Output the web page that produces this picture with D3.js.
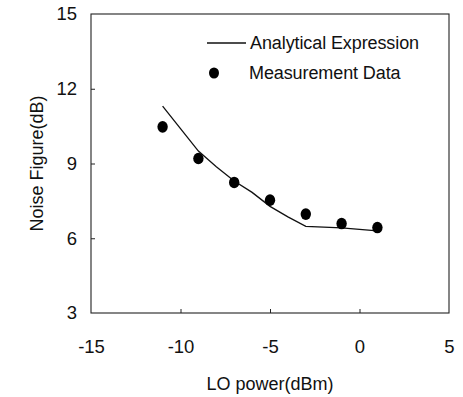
<!DOCTYPE html>
<html lang="en">
<head>
<meta charset="utf-8" />
<title>Noise Figure vs LO power</title>
<script src="https://cdn.jsdelivr.net/npm/d3@7/dist/d3.min.js"></script>
<style>
  body { margin: 0; background: #fff; }
  svg { display: block; font-family: "Liberation Sans", Arial, sans-serif; }
  .axis text { font-size: 18.5px; fill: #111; }
  .axis line { stroke: #222; stroke-width: 1px; }
  .axis path { display: none; }
  .frame { fill: none; stroke: #222; stroke-width: 1.1px; }
  .title { font-size: 18px; fill: #111; }
  .legend text { font-size: 18px; fill: #111; letter-spacing: -0.1px; }
</style>
</head>
<body>
<svg id="chart" width="463" height="397"></svg>
<script>
// analytical expression (solid line)
const lineX = [-11, -10, -9, -8, -7, -6, -5, -4, -3, -1, 1];
const lineY = [11.3, 10.4, 9.5, 8.87, 8.3, 7.84, 7.28, 6.86, 6.48, 6.42, 6.3];
// measured points
const measX = [-11, -9, -7, -5, -3, -1, 1];
const measY = [10.47, 9.2, 8.24, 7.53, 6.97, 6.59, 6.43];
// ticks
const xTicks = [-15, -10, -5, 0, 5];
const yTicks = [3, 6, 9, 12, 15];

const svg = d3.select('#chart');
const M = {left: 91, right: 449, top: 14, bottom: 313};

const x = d3.scaleLinear().domain([-15, 5]).range([M.left, M.right]);
const y = d3.scaleLinear().domain([3, 15]).range([M.bottom, M.top]);

/* ---- axes: inward ticks, labels outside ---- */
const xAxis = d3.axisBottom(x).tickValues(xTicks).tickSizeInner(-4).tickSizeOuter(0)
  .tickFormat(d => String(d));
const gx = svg.append('g').attr('class', 'axis').attr('transform', `translate(0,${M.bottom})`).call(xAxis);
gx.selectAll('.tick').filter(d => d === -15 || d === 5).select('line').remove();
gx.selectAll('text').attr('dy', null).attr('y', 40);

const yAxis = d3.axisLeft(y).tickValues(yTicks).tickSizeInner(-4).tickSizeOuter(0)
  .tickPadding(14);
const gy = svg.append('g').attr('class', 'axis').attr('transform', `translate(${M.left},0)`).call(yAxis);
gy.selectAll('.tick').filter(d => d === 3 || d === 15).select('line').remove();

/* ---- frame ---- */
svg.append('rect').attr('class', 'frame')
  .attr('x', M.left).attr('y', M.top)
  .attr('width', M.right - M.left).attr('height', M.bottom - M.top);

/* ---- analytical line ---- */
const line = d3.line().x(d => x(d[0])).y(d => y(d[1]));
svg.append('path')
  .datum(lineX.map((v, i) => [v, lineY[i]]))
  .attr('d', line)
  .attr('fill', 'none').attr('stroke', '#111').attr('stroke-width', 1.3);

/* ---- measurement dots ---- */
svg.append('g').selectAll('ellipse')
  .data(measX.map((v, i) => [v, measY[i]]))
  .join('ellipse')
  .attr('cx', d => x(d[0])).attr('cy', d => y(d[1]))
  .attr('rx', 5.2).attr('ry', 5.8)
  .attr('fill', '#000');

/* ---- legend ---- */
const lg = svg.append('g').attr('class', 'legend');
lg.append('line').attr('x1', 207).attr('x2', 246).attr('y1', 43).attr('y2', 43)
  .attr('stroke', '#111').attr('stroke-width', 1.3);
lg.append('text').attr('x', 250).attr('y', 49).text('Analytical Expression');
lg.append('ellipse').attr('cx', 214).attr('cy', 73).attr('rx', 5).attr('ry', 5.6).attr('fill', '#000');
lg.append('text').attr('x', 249).attr('y', 79).text('Measurement Data');

/* ---- axis titles ---- */
svg.append('text').attr('class', 'title')
  .attr('x', (M.left + M.right) / 2).attr('y', 390)
  .attr('text-anchor', 'middle').text('LO power(dBm)');
svg.append('text').attr('class', 'title')
  .attr('transform', `translate(43,${(M.top + M.bottom) / 2}) rotate(-90)`)
  .attr('text-anchor', 'middle').text('Noise Figure(dB)');
</script>
</body>
</html>
